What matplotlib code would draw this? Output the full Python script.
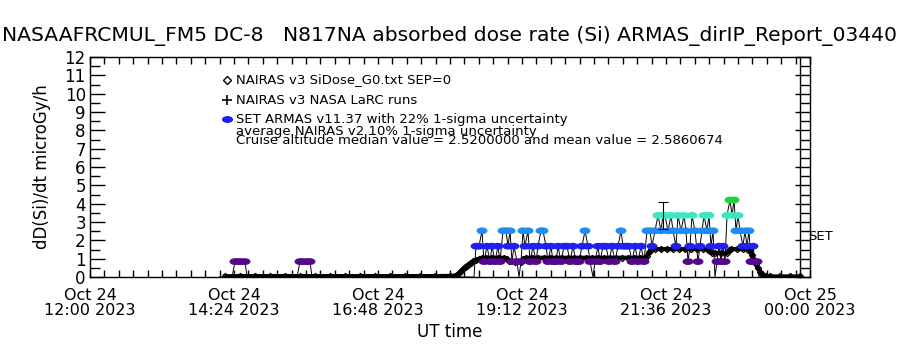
import matplotlib
matplotlib.use('Agg')
import matplotlib.pyplot as plt
from matplotlib.path import Path
from matplotlib.colors import ListedColormap, BoundaryNorm
from matplotlib.ticker import MultipleLocator

# ---------------- data ----------------
# x in minutes after 2023-10-24 12:00 UT
xtick_min = [0, 144, 288, 432, 576, 720]
xtick_labels = ["Oct 24\n12:00 2023", "Oct 24\n14:24 2023", "Oct 24\n16:48 2023",
                "Oct 24\n19:12 2023", "Oct 24\n21:36 2023", "Oct 25\n00:00 2023"]
ytick_vals = [0, 1, 2, 3, 4, 5, 6, 7, 8, 9, 10, 11, 12]

nairas_min = [135, 150, 165, 180, 195, 210, 225, 240, 255, 270, 285, 300, 315, 330, 345, 360, 365,
              367, 369, 371, 373, 375, 377, 379, 381, 383, 386, 389, 392,
              396, 402, 408, 414, 417, 419, 425, 431, 433, 436,
              442, 448, 454, 460, 466, 472, 478, 484, 490, 496, 502, 508, 514, 520, 526, 532,
              538, 544, 550, 555, 557, 559, 561,
              565, 571, 577, 583, 589, 595, 601, 607, 613, 618, 620, 622, 625, 631, 637, 639, 641,
              647, 653, 658, 660, 662, 664, 666, 668, 670, 672, 674, 676, 680, 690, 700, 710]
nairas_val = [0.04, 0.05, 0.05, 0.05, 0.05, 0.05, 0.05, 0.05, 0.05, 0.05, 0.05, 0.05, 0.05, 0.05, 0.05, 0.06, 0.08,
              0.12, 0.22, 0.32, 0.42, 0.52, 0.62, 0.70, 0.78, 0.85, 0.92, 0.98, 1.03,
              1.05, 1.05, 1.05, 1.05, 1.00, 0.85, 0.82, 0.83, 1.00, 1.05,
              1.05, 1.05, 1.05, 1.05, 1.05, 1.05, 1.05, 1.05, 1.05, 1.05, 1.05, 1.05, 1.05, 1.05, 1.05, 1.05,
              1.05, 1.05, 1.05, 1.06, 1.15, 1.35, 1.50,
              1.52, 1.52, 1.52, 1.52, 1.52, 1.52, 1.52, 1.52, 1.52, 1.50, 1.40, 1.30, 1.30, 1.30, 1.30, 1.45, 1.52,
              1.52, 1.52, 1.50, 1.45, 1.20, 0.95, 0.70, 0.50, 0.30, 0.15, 0.06, 0.03, 0.03, 0.03, 0.03, 0.03]

armas_min = [130, 142, 145, 148, 151, 155, 157, 180, 207, 210, 213, 217, 220, 222, 260, 300, 340, 384,
             386, 389, 392, 394, 397, 400, 402, 405, 408, 410, 413, 416, 418, 420, 422, 424, 427, 429,
             431, 433, 435, 438, 440, 443, 446, 448, 451, 453, 456, 458, 461, 463, 466, 468, 471, 474,
             477, 480, 483, 486, 489, 492, 495, 498, 500, 503, 505, 508, 510, 513, 516, 519, 522, 525,
             528, 531, 533, 536, 539, 542, 545, 548, 551, 554, 557, 560, 562, 565, 568, 571, 573, 575,
             578, 581, 583, 586, 588, 591, 594, 596, 598, 600, 602, 605, 608, 610, 612, 614, 617, 619,
             621, 623, 625, 627, 629, 631, 633, 635, 637, 640, 642, 644, 646, 648, 650, 653, 655, 657,
             659, 661, 663, 665, 667, 669, 690, 710]
armas_val = [0, 0, 0.84, 0.84, 0.84, 0.84, 0, 0, 0, 0.84, 0.84, 0.84, 0.84, 0, 0, 0, 0, 0,
             1.68, 1.68, 2.52, 0.84, 1.68, 0.84, 1.68, 0.84, 1.68, 0.84, 2.52, 2.52, 1.68, 2.52, 0.84, 1.68, 0.84, 0,
             0.84, 2.52, 1.68, 2.52, 0.84, 1.68, 0.84, 1.68, 2.52, 2.52, 1.68, 0.84, 1.68, 0.84, 0.84, 1.68, 0.84, 1.68,
             1.68, 0.84, 1.68, 0.84, 0.84, 1.68, 2.52, 1.68, 0.84, 0, 0.84, 1.68, 0.84, 1.68, 1.68, 0.84, 1.68, 0.84,
             1.68, 2.52, 1.68, 1.68, 1.68, 0.84, 1.68, 0.84, 1.68, 0.84, 2.52, 2.52, 1.68, 2.52, 3.36, 2.52, 3.36, 3.36,
             2.52, 3.36, 2.52, 1.68, 3.36, 2.52, 3.36, 2.52, 0.84, 1.68, 3.36, 2.52, 0.84, 1.68, 2.52, 3.36, 2.52, 3.36,
             1.68, 2.52, 0, 0.84, 1.68, 0.84, 1.68, 0.84, 3.36, 4.20, 3.36, 4.20, 2.52, 3.36, 2.52, 1.68, 2.52, 1.68,
             2.52, 0.84, 1.68, 0.84, 0.84, 0, 0, 0]

errbar_min = [573]
errbar_val = [3.36]
errbar_frac = 0.22

level_bounds = [0.4, 1.2, 2.1, 2.9, 3.8, 4.6]
level_colors = ['#520a8a', '#2020f0', '#1e8cf5', '#3ce6c0', '#1ed23c']

title = "NASAAFRCMUL_FM5 DC-8   N817NA absorbed dose rate (Si) ARMAS_dirIP_Report_03440"
legend_lines = ["NAIRAS v3 SiDose_G0.txt SEP=0",
                "NAIRAS v3 NASA LaRC runs",
                "SET ARMAS v11.37 with 22% 1-sigma uncertainty",
                "average NAIRAS v2 10% 1-sigma uncertainty",
                "Cruise altitude median value = 2.5200000 and mean value = 2.5860674"]

# ---------------- figure ----------------
plt.rcParams['font.family'] = ['DejaVu Sans']
W, H = 900, 350
fig = plt.figure(figsize=(9, 3.5), dpi=100)
ax = fig.add_axes([90 / W, 1 - 277 / H, 720 / W, 220 / H])
ax.set_xlim(0, 720)
ax.set_ylim(0, 12)

# ellipse marker
ell = Path.unit_circle()
ell = Path(ell.vertices * [1.0, 0.62], ell.codes)

# ARMAS connecting line
ax.plot(armas_min, armas_val, color='black', lw=0.7, zorder=2)
# NAIRAS SiDose
ax.plot(nairas_min, nairas_val, color='black', lw=3.0, marker='D', ms=3.2,
        mfc='none', mec='black', mew=0.9, zorder=3)
# ARMAS colored markers
pm = [m for m, v in zip(armas_min, armas_val) if v > 0]
pv = [v for v in armas_val if v > 0]
cmap = ListedColormap(level_colors)
norm = BoundaryNorm(level_bounds, cmap.N)
ax.scatter(pm, pv, c=pv, cmap=cmap, norm=norm, marker=ell, s=62, linewidths=0, zorder=4)
# error bar
ax.errorbar(errbar_min, errbar_val, yerr=[v * errbar_frac for v in errbar_val], fmt='none',
            ecolor='black', elinewidth=0.8, capsize=3.5, capthick=0.8, zorder=5)

# axes styling
for s in ax.spines.values():
    s.set_linewidth(1.0)
ax.set_xticks(xtick_min)
ax.set_xticklabels(xtick_labels, linespacing=0.95)
ax.xaxis.set_minor_locator(MultipleLocator(14.4))
ax.set_yticks(ytick_vals)
ax.set_yticklabels([str(v) for v in ytick_vals])
ax.yaxis.set_minor_locator(MultipleLocator(0.5))
ax.tick_params(axis='x', which='both', direction='in', top=True, bottom=True,
               length=5, width=1, labelsize=11.5, pad=8)
ax.tick_params(axis='y', which='major', direction='in', left=True, right=True,
               length=11, width=1, labelsize=12, pad=3)
ax.tick_params(axis='y', which='minor', direction='in', left=True, right=True,
               length=7.5, width=1)

# inner right axis line ("SET")
sec = ax.secondary_yaxis((800 - 90) / 720)
sec.set_yticks([])
sec.spines['right'].set_linewidth(1.0)
fig.text(808 / W, 1 - 237 / H, "SET", fontsize=9.5, ha='left', va='center')

ax.set_xlabel("UT time", fontsize=12, labelpad=4)
ax.set_ylabel("dD(Si)/dt microGy/h", fontsize=12, labelpad=10)
fig.text(450 / W, 1 - 36 / H, title, fontsize=14.6, ha='center', va='center')

# legend
lx, tx = 227, 236
ly = [80, 100, 119]
fig.lines.append(plt.Line2D([lx / W], [1 - ly[0] / H], marker='D', ms=4, mfc='white', mec='black',
                            mew=1, ls='none', transform=fig.transFigure))
fig.lines.append(plt.Line2D([lx / W], [1 - ly[1] / H], marker='+', ms=7, mec='black',
                            mew=1.2, ls='none', transform=fig.transFigure))
fig.lines.append(plt.Line2D([lx / W], [1 - ly[2] / H], marker=ell, ms=8, mfc='#2020f0', mec='none',
                            ls='none', transform=fig.transFigure))
for y, s in zip([80, 100, 119, 131, 141], legend_lines):
    fig.text(tx / W, 1 - y / H, s, fontsize=9.5, ha='left', va='center')

fig.savefig('out.png', dpi=100)
